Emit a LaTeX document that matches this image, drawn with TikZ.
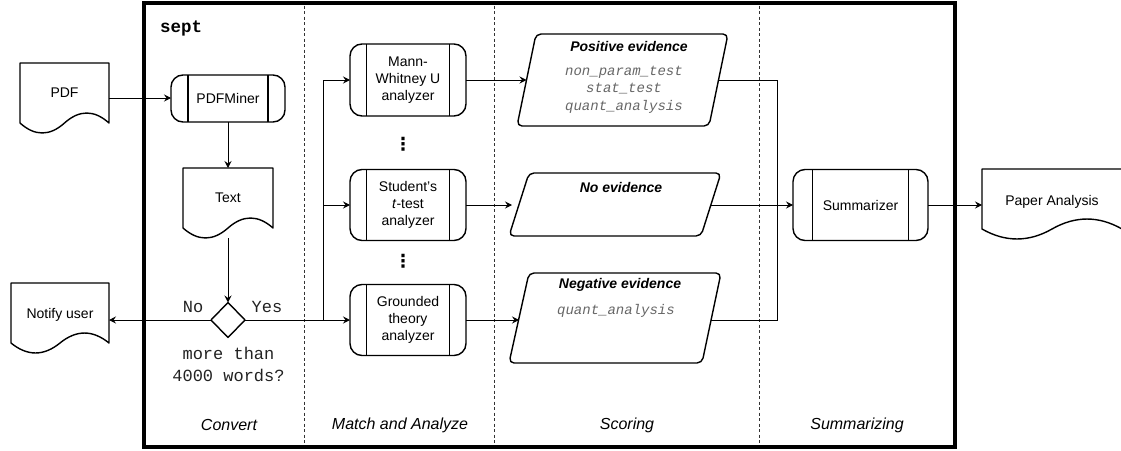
\documentclass[tikz,border=0pt]{standalone}
\usepackage{fontspec}
\setmainfont{Liberation Sans}
\setmonofont{Liberation Mono}
\newfontfamily\dejavu{DejaVu Sans}
\usetikzlibrary{shapes.geometric,arrows.meta,calc}
\definecolor{codegray}{HTML}{666666}
\definecolor{darktext}{HTML}{222222}
\newcommand\drawdoc[1]{%
  \draw[shp] let \p1=(#1.south west), \p2=(#1.north east) in
    (\x1,{\y1+10pt}) -- (\x1,\y2) -- (\x2,\y2) -- (\x2,{\y1+10pt})
    .. controls ({\x2-(\x2-\x1)/6},{\y1+23.3pt}) and ({(\x1+\x2)/2+(\x2-\x1)/6},{\y1+23.3pt}) ..
    ({(\x1+\x2)/2},{\y1+10pt})
    .. controls ({(\x1+\x2)/2-(\x2-\x1)/6},{\y1-3.3pt}) and ({\x1+(\x2-\x1)/6},{\y1-3.3pt}) ..
    (\x1,{\y1+10pt}) -- cycle;}
\begin{document}
\begin{tikzpicture}[x=1pt,y=-1pt,
  every node/.style={inner sep=0pt, outer sep=0pt, align=center, font=\fontsize{14}{17}\selectfont},
  shp/.style={line width=1.4pt, line join=round},
  conn/.style={line width=1pt},
  arr/.style={conn, -{Stealth[length=7pt,width=7pt,inset=2.5pt]}},
  divider/.style={line width=0.8pt, dash pattern=on 3pt off 2.5pt, draw=black!80},
  docnode/.style={minimum height=70pt},
  proc/.style={draw, shp, rounded corners=12pt,
    path picture={
      \draw[shp] ([xshift=#1]path picture bounding box.north west) -- ([xshift=#1]path picture bounding box.south west);
      \draw[shp] ([xshift=-#1]path picture bounding box.north east) -- ([xshift=-#1]path picture bounding box.south east);
    }},
  para/.style={shp, rounded corners=5pt},
  ptitle/.style={font=\fontsize{14}{17}\selectfont\bfseries\itshape},
  codetext/.style={font=\fontsize{14}{17.5}\selectfont\ttfamily\itshape, text=codegray},
  monolab/.style={font=\fontsize{17}{22}\selectfont\ttfamily, text=darktext},
  collab/.style={font=\fontsize{16}{19}\selectfont\itshape},
  vdots/.style={font=\fontsize{18}{20}\selectfont\dejavu\bfseries},
]
\useasboundingbox (0,0) rectangle (1121,450);

% frame and lane dividers
\draw[line width=4.5pt] (144,3) rectangle (955,447);
\draw[divider] (304,5.5) -- (304,444.5);
\draw[divider] (494,5.5) -- (494,444.5);
\draw[divider] (759,5.5) -- (759,444.5);

\node[anchor=west, font=\fontsize{17.5}{20}\selectfont\ttfamily\bfseries] (sept) at (160,28) {sept};

% documents
\node[docnode, minimum width=89pt, anchor=north west] (pdf) at (20,63) {\raisebox{10pt}{PDF}};
\drawdoc{pdf}
\node[docnode, minimum width=90pt, anchor=north west] (text) at (183,168) {\raisebox{10pt}{Text}};
\drawdoc{text}
\node[docnode, minimum width=98pt, anchor=north west] (notify) at (11,283) {\raisebox{10pt}{Notify user}};
\drawdoc{notify}
\node[docnode, minimum width=140pt, anchor=north west] (paper) at (982,169) {\raisebox{8pt}{Paper Analysis}};
\drawdoc{paper}

% processes
\node[proc=17pt, minimum width=114pt, minimum height=47pt] (miner) at (228,98.5) {PDFMiner};
\node[proc=16.5pt, minimum width=116pt, minimum height=72pt] (mw) at (408,80) {Mann-\\Whitney U\\analyzer};
\node[proc=16.5pt, minimum width=116pt, minimum height=71pt] (st) at (408,205) {Student's\\\textit{t}-test\\analyzer};
\node[proc=16.5pt, minimum width=116pt, minimum height=71pt] (gt) at (408,320) {Grounded\\theory\\analyzer};
\node[proc=19.5pt, minimum width=135pt, minimum height=71pt] (summ) at (860.5,205) {Summarizer};

\node[vdots] (dots1) at (403,144) {⋮};
\node[vdots] (dots2) at (403,261) {⋮};

% decision
\node[diamond, draw, shp, minimum width=34pt, minimum height=35pt] (dec) at (228,320) {};
\node[monolab] (no) at (193,307) {No};
\node[monolab] (yes) at (267,307) {Yes};
\node[monolab] (question) at (228.5,364) {more than\\4000 words?};

% evidence parallelograms
\draw[para] (536,34) -- (728,34) -- (709,126) -- (517,126) -- cycle;
\node[ptitle] (posT) at (629,46) {Positive evidence};
\node[codetext] (posC) at (624,89.5) {non\_param\_test\\stat\_test\\quant\_analysis};
\draw[para] (529,173) -- (721,173) -- (701,236) -- (509,236) -- cycle;
\node[ptitle] (noT) at (621,187) {No evidence};
\draw[para] (529,273) -- (721,273) -- (702,363) -- (509,363) -- cycle;
\node[ptitle] (negT) at (620,285) {Negative evidence};
\node[codetext] (negC) at (616,311) {quant\_analysis};

\coordinate (posL) at (526.5,80);
\coordinate (posR) at (718.5,80);
\coordinate (noL) at (512,205);
\coordinate (noR) at (711,205);
\coordinate (negL) at (519,320);
\coordinate (negR) at (711,320);
\coordinate (join) at (777,205);
\coordinate (split) at (323,320);

% connectors
\draw[arr] (pdf.east) -- (pdf.east -| miner.west);
\draw[arr] (miner.south) -- (text.north);
\draw[arr] (text.south) -- (dec.north);
\draw[arr] (dec.west) -- (dec.west -| notify.east);
\draw[conn] (dec.east) -- (split);
\draw[arr] (split) -- (gt.west);
\draw[arr] (split) |- (mw.west);
\draw[arr] (split) |- (st.west);
\draw[arr] (mw.east) -- (posL);
\draw[arr] (st.east) -- (noL);
\draw[arr] (gt.east) -- (negL);
\draw[conn] (posR) -| (join);
\draw[conn] (negR) -| (join);
\draw[arr] (noR) -- (summ.west);
\draw[arr] (summ.east) -- (summ.east -| paper.west);

% lane labels
\node[collab] (lane1) at (229,425) {Convert};
\node[collab] (lane2) at (400,425) {Match and Analyze};
\node[collab] (lane3) at (627,425) {Scoring};
\node[collab] (lane4) at (857,425) {Summarizing};
\end{tikzpicture}
\end{document}
